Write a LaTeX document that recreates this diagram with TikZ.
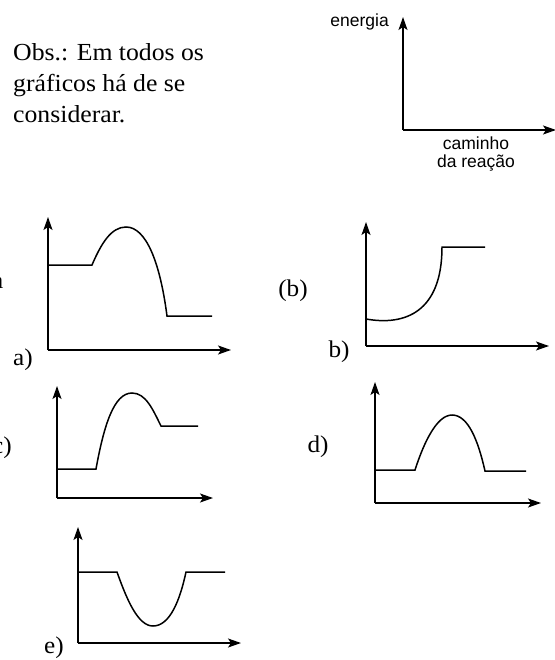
\documentclass[tikz,border=0pt]{standalone}
\usepackage{fontspec}
\setmainfont[FakeStretch=1.05]{Liberation Serif}
\newfontfamily\lsans{Liberation Sans}
\usetikzlibrary{arrows.meta}
\tikzset{
  axis/.style={line width=1.6pt,-{Stealth[length=13pt,width=9pt,inset=3pt]}},
  curve/.style={line width=1.5pt,line join=miter},
  lbl/.style={inner sep=0pt,font=\fontsize{24}{28}\selectfont},
  obs/.style={inner sep=0pt,align=left,anchor=north west,font=\fontsize{24.5}{31}\selectfont},
  sans/.style={inner sep=0pt,align=center,font=\lsans\fontsize{17.5}{18}\selectfont}
}
\begin{document}
\begin{tikzpicture}[x=1pt,y=-1pt]
\useasboundingbox (0,0) rectangle (554,660);
% header text
\node[obs] (obs) at (13,43) {Obs.: Em todos os\\gráficos há de se\\considerar.};
% top axes
\coordinate (tO) at (403,130);
\coordinate (tY) at (403,17);
\coordinate (tX) at (556,130);
\draw[axis] (tO) -- (tY);
\draw[axis] (tO) -- (tX);
\node[sans,anchor=east] (en) at (389,22) {energia};
\node[sans] (cam) at (476,154) {caminho\\da reação};
% fragment
\node[lbl,anchor=base east] (frag) at (3.5,288) {a};
% graph a
\coordinate (aO) at (48,350);
\coordinate (aY) at (48,217);
\coordinate (aX) at (231,350);
\draw[axis] (aO) -- (aY);
\draw[axis] (aO) -- (aX);
\draw[curve] (48,265) -- (92,265) .. controls (101,244) and (111,227) .. (126,227) .. controls (146,227) and (160,262) .. (167,316) -- (212,316);
\node[lbl] (la) at (23,360) {a)};
% graph b
\coordinate (bO) at (366,346);
\coordinate (bY) at (366,222);
\coordinate (bX) at (549,346);
\draw[axis] (bO) -- (bY);
\draw[axis] (bO) -- (bX);
\draw[curve] (366,319) .. controls (405,326) and (442,312) .. (442,247) -- (485,247);
\node[lbl] (lbp) at (293,291) {(b)};
\node[lbl] (lb) at (339,352) {b)};
% graph c
\coordinate (cO) at (57,498);
\coordinate (cY) at (57,386);
\coordinate (cX) at (213,498);
\draw[axis] (cO) -- (cY);
\draw[axis] (cO) -- (cX);
\draw[curve] (57,469) -- (96,469) .. controls (104,425) and (114,393) .. (132,393) .. controls (146,393) and (153,410) .. (161,426) -- (198,426);
\node[lbl,anchor=east] (lc) at (12,448) {c)};
% graph d
\coordinate (dO) at (375,503);
\coordinate (dY) at (375,382);
\coordinate (dX) at (541,503);
\draw[axis] (dO) -- (dY);
\draw[axis] (dO) -- (dX);
\draw[curve] (375,470) -- (415,470) .. controls (424,442) and (437,415) .. (452,415) .. controls (468,415) and (478,440) .. (485,471) -- (526,471);
\node[lbl] (ld) at (318,447) {d)};
% graph e
\coordinate (eO) at (78,643);
\coordinate (eY) at (78,527);
\coordinate (eX) at (241,643);
\draw[axis] (eO) -- (eY);
\draw[axis] (eO) -- (eX);
\draw[curve] (78,572) -- (117,572) .. controls (127,600) and (138,626) .. (153,626) .. controls (170,626) and (180,600) .. (186,572) -- (225,572);
\node[lbl] (le) at (54,648) {e)};
\end{tikzpicture}
\end{document}
